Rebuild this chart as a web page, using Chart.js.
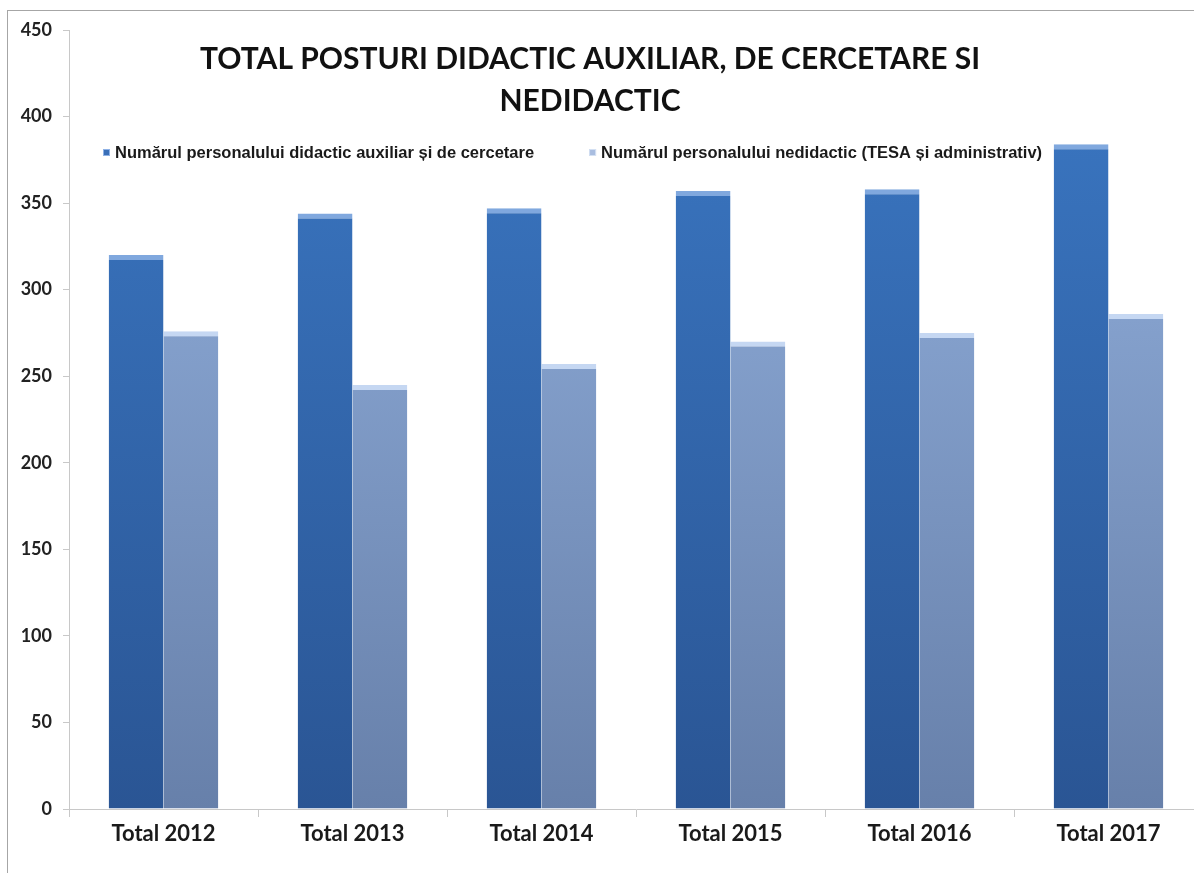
<!DOCTYPE html>
<html>
<head>
<meta charset="utf-8">
<script src="https://cdn.jsdelivr.net/npm/chart.js@4.4.1/dist/chart.umd.min.js"></script>
<style>
html, body { margin: 0; padding: 0; background: #fff; overflow: hidden; }
#frame { position: absolute; left: 7px; top: 10px; width: 1400px; height: 1000px; border: 1px solid #a6a6a6; }
#wrap { position: absolute; left: 0; top: 0; width: 1203px; height: 873px; }
</style>
</head>
<body>
<div id="frame"></div>
<div id="wrap"><canvas id="myChart"></canvas></div>
<script>
var categories = ['Total 2012', 'Total 2013', 'Total 2014', 'Total 2015', 'Total 2016', 'Total 2017'];
var didacticAux = [320, 344, 347, 357, 358, 384];
var nedidactic = [276, 245, 257, 270, 275, 286];
var seriesNames = [
  'Numărul personalului didactic auxiliar și de cercetare',
  'Numărul personalului nedidactic (TESA și administrativ)'
];
var titleLines = ['TOTAL POSTURI DIDACTIC AUXILIAR, DE CERCETARE SI', 'NEDIDACTIC'];
var yMin = 0, yMax = 450, yStep = 50;

// vertical shading like the 3D office bars
function barFill(topCol, bottomCol) {
  return function (c) {
    var area = c.chart.chartArea;
    if (!area) return bottomCol;
    var g = c.chart.ctx.createLinearGradient(0, area.top, 0, area.bottom);
    g.addColorStop(0, topCol);
    g.addColorStop(1, bottomCol);
    return g;
  };
}

// title + legend sit inside the plot area, so draw them by hand
var overlay = {
  id: 'overlay',
  afterDraw: function (chart) {
    var ctx = chart.ctx;
    ctx.save();
    ctx.fillStyle = '#111';
    ctx.textAlign = 'center';
    ctx.textBaseline = 'middle';
    ctx.font = 'bold 30px Lato';
    ctx.fillText(titleLines[0], 590, 59);
    ctx.fillText(titleLines[1], 590, 101);

    ctx.font = 'bold 16.5px "Liberation Sans"';
    ctx.textAlign = 'left';
    var x = 103, y = 153;
    var marks = ['#3a6fb8', '#a9bde0'];
    var edges = ['#8fb2e6', '#d3e0f3'];
    chart.data.datasets.forEach(function (ds, i) {
      ctx.fillStyle = marks[i];
      ctx.fillRect(x, y - 4, 7, 7);
      ctx.strokeStyle = edges[i];
      ctx.lineWidth = 1;
      ctx.strokeRect(x + 0.5, y - 3.5, 6, 6);
      ctx.fillStyle = '#1a1a1a';
      ctx.fillText(ds.label, x + 12, y);
      x += 12 + ctx.measureText(ds.label).width + 55;
    });
    ctx.restore();
  }
};

var ctx = document.getElementById('myChart').getContext('2d');
var config = {
  type: 'bar',
  data: {
    labels: categories,
    datasets: [{
      label: seriesNames[0],
      data: didacticAux,
      backgroundColor: barFill('#3b78c4', '#2a5594'),
      borderColor: '#80a8de',
      borderWidth: { top: 5, left: 0, right: 0, bottom: 0 },
      borderSkipped: false,
      categoryPercentage: 0.58,
      barPercentage: 1
    }, {
      label: seriesNames[1],
      data: nedidactic,
      backgroundColor: barFill('#95b3e0', '#6780aa'),
      borderColor: '#c5d7f2',
      borderWidth: { top: 5, left: 0, right: 0, bottom: 0 },
      borderSkipped: false,
      categoryPercentage: 0.58,
      barPercentage: 1
    }]
  },
  options: {
    responsive: true,
    maintainAspectRatio: false,
    animation: false,
    layout: { padding: { top: 30, left: 0, right: 0, bottom: 0 } },
    plugins: {
      legend: { display: false },
      title: { display: false },
      tooltip: { enabled: false }
    },
    scales: {
      x: {
        grid: { drawOnChartArea: false, tickLength: 8, color: '#c8c8c8' },
        border: { color: '#c8c8c8' },
        ticks: { color: '#1a1a1a', font: { family: 'Lato', weight: 'bold', size: 22 }, padding: 4 },
        afterFit: function (s) { s.height = 64; }
      },
      y: {
        min: yMin,
        max: yMax,
        grid: { drawOnChartArea: false, tickLength: 6, color: '#c8c8c8' },
        border: { color: '#c8c8c8' },
        ticks: { stepSize: yStep, color: '#222', font: { family: 'Lato', weight: 'bold', size: 18 }, padding: 11 },
        afterFit: function (s) { s.width = 69; }
      }
    }
  },
  plugins: [overlay]
};

var chart = new Chart(ctx, config);
</script>
</body>
</html>
